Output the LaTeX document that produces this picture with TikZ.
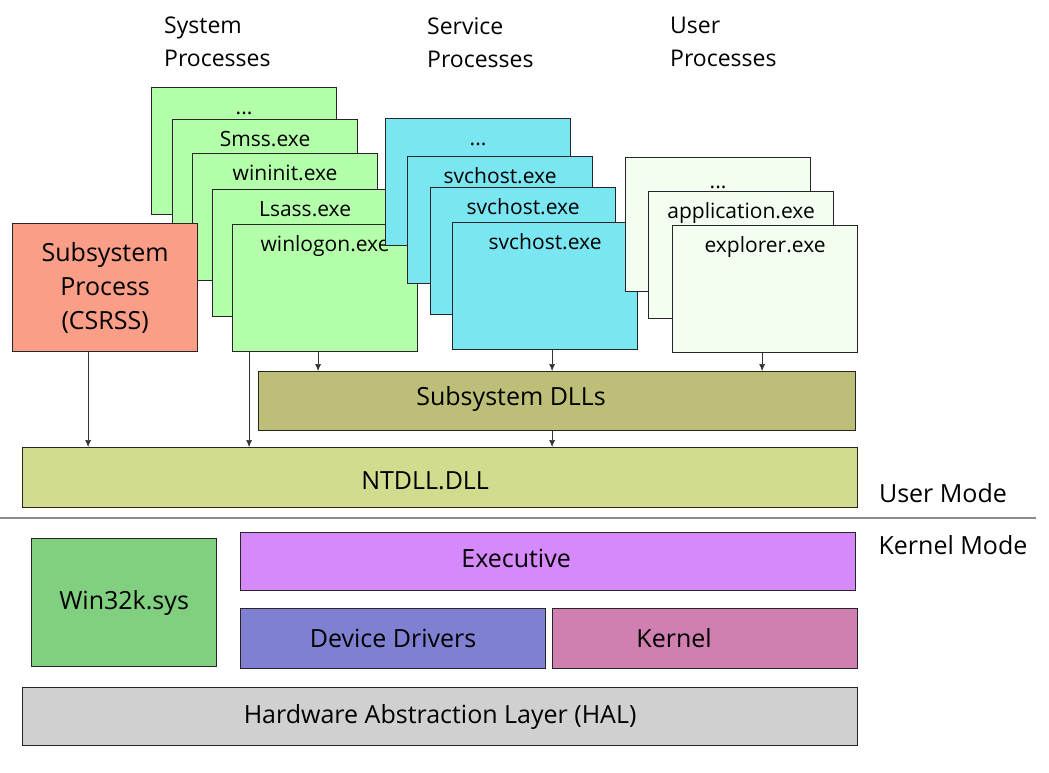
\documentclass[tikz,border=0pt]{standalone}
\usepackage{fontspec}
\setmainfont{Open Sans}
\usetikzlibrary{arrows.meta}

\definecolor{sysgreen}{RGB}{179,255,170}
\definecolor{svccyan}{RGB}{122,230,242}
\definecolor{usrpale}{RGB}{243,253,240}
\definecolor{csrssred}{RGB}{250,158,136}
\definecolor{dllolive}{RGB}{189,191,120}
\definecolor{ntdllgreen}{RGB}{211,219,142}
\definecolor{wingreen}{RGB}{128,208,128}
\definecolor{execviolet}{RGB}{214,137,250}
\definecolor{drvblue}{RGB}{128,128,210}
\definecolor{kernpink}{RGB}{208,128,176}
\definecolor{halgray}{RGB}{208,208,208}

\tikzset{
	proc/.style={draw=black!85, line width=1.2pt, anchor=north west, minimum width=185pt,
		inner ysep=3pt, text height=24pt, text depth=97pt, font=\fontsize{21}{24}\selectfont},
	layer/.style={draw=black!85, line width=1.2pt, anchor=north west, font=\fontsize{25}{28}\selectfont},
	lbl/.style={font=\fontsize{25}{28}\selectfont},
	title/.style={anchor=north west, align=left, inner sep=0pt, font=\fontsize{23}{33}\selectfont},
	arr/.style={-{Latex[length=7pt,width=6pt]}, black!80, line width=0.6pt},
}

\begin{document}
\begin{tikzpicture}[x=1pt, y=-1pt]
	\useasboundingbox (0,0) rectangle (1049,772);
	% titles
	\node[title] (systitle) at (164,17) {System\\Processes};
	\node[title] (svctitle) at (427,17) {Service\\Processes};
	\node[title] (usrtitle) at (670,17) {User\\Processes};
	% system processes
	\node[proc, fill=sysgreen] (sys1) at (151,87) {...};
	\node[proc, fill=sysgreen] (sys2) at (172,119) {Smss.exe};
	\node[proc, fill=sysgreen] (sys3) at (192,153) {wininit.exe};
	\node[proc, fill=sysgreen] (sys4) at (212,189) {Lsass.exe};
	\node[proc, fill=sysgreen] (winlogon) at (232,224) {winlogon.exe};
	\node[layer, fill=csrssred, minimum width=185pt, minimum height=128pt, align=center,
		font=\fontsize{25}{34}\selectfont] (csrss) at (12,223) {Subsystem\\Process\\(CSRSS)};
	% service processes
	\node[proc, fill=svccyan] (svc1) at (385,118) {...};
	\node[proc, fill=svccyan] (svc2) at (407,156) {svchost.exe};
	\node[proc, fill=svccyan] (svc3) at (430,187) {svchost.exe};
	\node[proc, fill=svccyan] (svchost) at (452,222) {svchost.exe};
	% user processes
	\node[proc, fill=usrpale, minimum height=134pt] (usr1) at (625,157) {...};
	\node[proc, fill=usrpale] (usr2) at (648,191) {application.exe};
	\node[proc, fill=usrpale] (explorer) at (672,225) {explorer.exe};
	% user mode layers
	\node[layer, fill=dllolive, minimum width=597pt, minimum height=59pt] (dlls) at (258,371) {};
	\node[lbl] (dllslbl) at ([xshift=-46pt,yshift=2pt]dlls.center) {Subsystem DLLs};
	\node[layer, fill=ntdllgreen, minimum width=835pt, minimum height=60pt] (ntdll) at (22,447) {};
	\node[lbl] (ntdlllbl) at ([xshift=-15pt,yshift=-3pt]ntdll.center) {NTDLL.DLL};
	% mode split
	\node[lbl] (usermode) at (943,493) {User Mode};
	\draw[black!45, line width=2pt] (0,518) -- (1036,518);
	\node[lbl] (kernelmode) at (953,545) {Kernel Mode};
	% kernel mode layers
	\node[layer, fill=wingreen, minimum width=185pt, minimum height=128pt] (win32k) at (31,538) {Win32k.sys};
	\node[layer, fill=execviolet, minimum width=615pt, minimum height=58pt] (exec) at (240,532) {};
	\node[lbl] (execlbl) at ([xshift=-32pt,yshift=3pt]exec.center) {Executive};
	\node[layer, fill=drvblue, minimum width=305pt, minimum height=60pt] (drivers) at (240,608) {Device Drivers};
	\node[layer, fill=kernpink, minimum width=305pt, minimum height=60pt] (kernel) at (552,608) {};
	\node[lbl] (kernellbl) at ([xshift=-31pt]kernel.center) {Kernel};
	\node[layer, fill=halgray, minimum width=835pt, minimum height=58pt] (hal) at (22,687) {Hardware Abstraction Layer (HAL)};
	% calls
	\draw[arr] ([xshift=-17pt]csrss.south) -- ([xshift=-17pt]csrss.south |- ntdll.north);
	\draw[arr] ([xshift=-76pt]winlogon.south) -- ([xshift=-76pt]winlogon.south |- ntdll.north);
	\draw[arr] ([xshift=-7pt]winlogon.south) -- ([xshift=-7pt]winlogon.south |- dlls.north);
	\draw[arr] ([xshift=7pt]svchost.south) -- ([xshift=7pt]svchost.south |- dlls.north);
	\draw[arr] ([xshift=-3pt]explorer.south) -- ([xshift=-3pt]explorer.south |- dlls.north);
	\draw[arr] ([xshift=-5pt]dlls.south) -- ([xshift=-5pt]dlls.south |- ntdll.north);
\end{tikzpicture}
\end{document}
